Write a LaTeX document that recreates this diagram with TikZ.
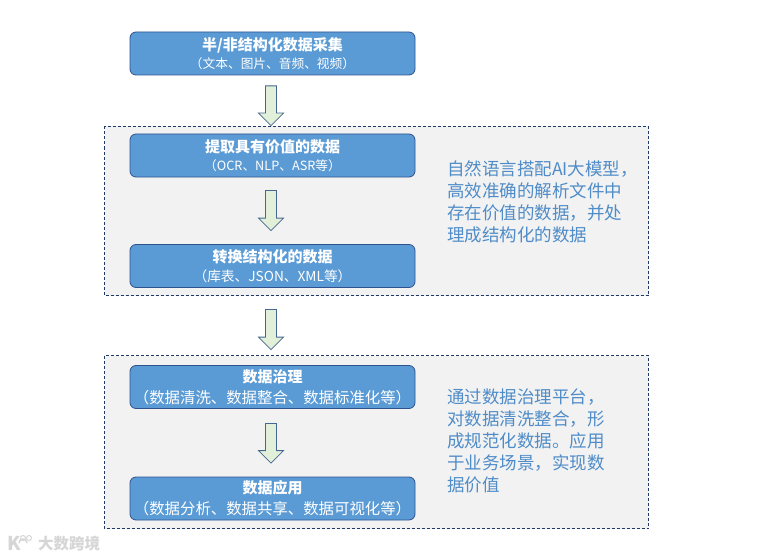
\documentclass[tikz,border=0pt]{standalone}
\usepackage{fontspec}
\setmainfont{Noto Sans CJK SC}
\usetikzlibrary{calc}
\definecolor{boxfill}{HTML}{5B9BD5}
\definecolor{boxline}{HTML}{2F528F}
\definecolor{panelfill}{HTML}{F2F2F2}
\definecolor{panelline}{HTML}{203864}
\definecolor{arrowfill}{HTML}{E2F0D9}
\definecolor{arrowline}{HTML}{44688F}
\definecolor{sidetext}{HTML}{4F8CC8}
\definecolor{markgrey}{HTML}{D6D6D6}
\tikzset{
  x=1pt,y=-1pt,
  panel/.style={draw=panelline,fill=panelfill,densely dashed,line width=0.7pt},
  stagebox/.style={draw=boxline,fill=boxfill,rounded corners=6pt,line width=0.8pt,minimum width=285pt,minimum height=43pt,inner sep=0pt,anchor=center,align=center,text=white},
  flowarrow/.style={draw=arrowline,fill=arrowfill,line width=0.8pt,line join=miter},
  sidenote/.style={anchor=north west,align=left,text width=200pt,text=sidetext,font=\fontsize{17.5}{22}\selectfont,inner sep=0pt},
}
\newcommand{\stagetext}[3]{\raisebox{2pt}{\fontsize{15}{15}\selectfont\bfseries #1}\\[4.5pt]{\fontsize{#3}{15}\selectfont #2}}
% block arrow from below node #1 (gap #2) to above node #3 (gap #4)
\newcommand{\flowarrowbetween}[5]{%
  \coordinate (#5-top) at ($(#1.south)+(-1.5,#2)$);
  \coordinate (#5-tip) at ($(#3.north)+(-1.5,-#4)$);
  \draw[flowarrow] let \p1=(#5-top), \p2=(#5-tip) in
    (\x1-5.5pt,\y1) -- (\x1+5.5pt,\y1) -- (\x1+5.5pt,\y2+12.5pt) -- (\x1+12.5pt,\y2+12.5pt)
    -- (\x2,\y2) -- (\x1-12.5pt,\y2+12.5pt) -- (\x1-5.5pt,\y2+12.5pt) -- cycle;
}
\begin{document}
\begin{tikzpicture}
\useasboundingbox (0,0) rectangle (760,559);
\fill[white] (0,0) rectangle (760,559);
\draw[panel] (104.5,126.5) rectangle (648.5,295.5);
\draw[panel] (104.5,355.5) rectangle (648.5,528.5);

\node[stagebox] (s1) at (272.5,53.5) {\stagetext{半/非结构化数据采集}{（文本、图片、音频、视频）}{12.7}};
\node[stagebox] (s2) at (272.5,155.5) {\stagetext{提取具有价值的数据}{（OCR、NLP、ASR等）}{12.7}};
\node[stagebox] (s3) at (272.5,266) {\stagetext{转换结构化的数据}{（库表、JSON、XML等）}{13.7}};
\node[stagebox] (s4) at (272.5,387) {\stagetext{数据治理}{（数据清洗、数据整合、数据标准化等）}{15.4}};
\node[stagebox] (s5) at (272.5,498.5) {\stagetext{数据应用}{（数据分析、数据共享、数据可视化等）}{15.4}};

\flowarrowbetween{s1}{10.5}{s2}{8}{a1}
\flowarrowbetween{s2}{13}{s3}{13.5}{a2}
\flowarrowbetween{s3}{21.5}{s4}{15.5}{a3}
\flowarrowbetween{s4}{14.5}{s5}{13.5}{a4}

\node[sidenote] (n1) at (447,160.5) {自然语言搭配AI大模型，\\高效准确的解析文件中\\存在价值的数据，并处\\理成结构化的数据};
\node[sidenote] (n2) at (447,389) {通过数据治理平台，\\对数据清洗整合，形\\成规范化数据。应用\\于业务场景，实现数\\据价值};

\node[text=markgrey,anchor=west,inner sep=0pt,font=\fontsize{15.5}{15.5}\selectfont\bfseries] (wm) at (38,544) {大数跨境};
\node[text=markgrey,anchor=west,inner sep=0pt,font=\fontsize{19}{19}\selectfont\bfseries] (wk) at (7,543) {K};
\draw[markgrey,line width=1pt] (23,538) circle (2.5) (29,538) circle (2.5);
\draw[markgrey,line width=1.5pt] (19,543) arc[start angle=180,end angle=360,radius=4];
\end{tikzpicture}
\end{document}
